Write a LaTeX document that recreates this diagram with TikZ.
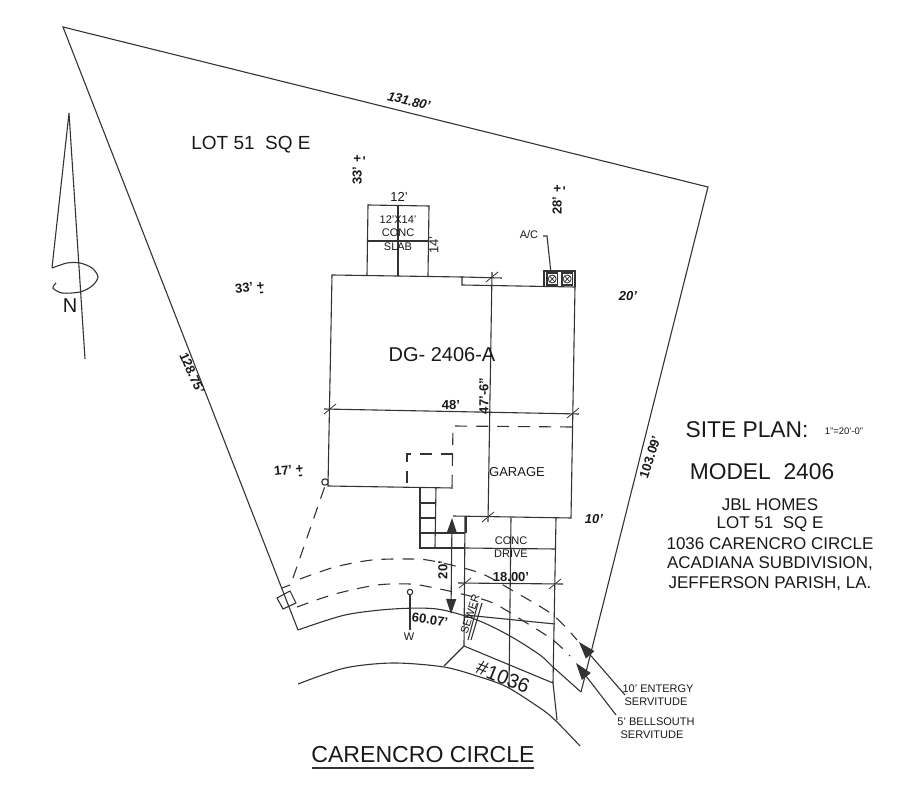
\documentclass[tikz,border=0pt]{standalone}
\usepackage{fontspec}
\setmainfont{Liberation Sans}
\usetikzlibrary{arrows.meta,positioning}
\newcommand{\grd}{\rlap{\raisebox{-6pt}{\,-}}+}
\tikzset{
	lbl/.style={inner sep=0, text=black!90, align=center},
	dim/.style={lbl, font=\fontsize{13}{13}\selectfont\bfseries},
	dimit/.style={lbl, font=\fontsize{13}{13}\selectfont\bfseries\itshape},
	small/.style={lbl, font=\fontsize{11}{11}\selectfont},
	block/.style={lbl, font=\fontsize{17}{17}\selectfont},
	big/.style={lbl, font=\fontsize{22.8}{22.8}\selectfont},
	plan/.style={line width=1.1pt, draw=black!80},
	hid/.style={plan, dash pattern=on 12pt off 9pt},
	tick/.style={plan, line width=0.8pt},
	fat/.style={-{Triangle[length=17pt,width=11pt]}, plan}
}
\begin{document}
\begin{tikzpicture}[x=1pt,y=-1pt, plan]
	\useasboundingbox (0,0) rectangle (900,802);
	\fill[white] (0,0) rectangle (900,802);
	% lot
	\coordinate (lotA) at (63,27);
	\coordinate (lotB) at (708,187);
	\coordinate (lotC) at (581,692);
	\coordinate (lotD) at (298,630);
	\draw[plan] (lotD) -- (lotA) -- (lotB) -- (lotC);
	\draw[plan] plot[smooth] coordinates {(lotD) (345,615) (393,609) (437,609) (477,620) (510,636) (540,655) (553,667) (lotC)};
	\draw[plan] plot[smooth] coordinates {(298,684) (345,668) (393,663) (444,667) (480,677) (507,687) (540,708) (555,720) (580,746)};
	% north arrow
	\coordinate (tip) at (69,113);
	\draw[plan] (85,359) -- (tip) -- (52,268);
	\draw[plan] plot[smooth] coordinates {(52,268) (67,263) (80,263) (92,268) (98,277) (92,286) (80,292) (62,293) (53,288) (56,283)};
	\node[lbl, font=\fontsize{20}{20}\selectfont] (north) at (70,306) {N};
	% slab
	\coordinate (slabA) at (368,205);
	\coordinate (slabB) at (429,206);
	\coordinate (slabC) at (428,276);
	\coordinate (slabD) at (367,276);
	\draw[plan] (slabD) -- (slabA) -- (slabB) -- (slabC);
	\draw[plan] (368,241) -- (429,241);
	\draw[plan] (398,205) -- (398,276);
	% house
	\coordinate (houseA) at (332,275);
	\coordinate (houseB) at (462,277);
	\coordinate (houseC) at (462,285);
	\coordinate (houseD) at (575,287);
	\coordinate (houseE) at (571,518);
	\coordinate (houseF) at (453,516);
	\coordinate (houseG) at (328,486);
	\coordinate (houseH) at (453,488);
	\draw[plan] (houseH) -- (houseG) -- (houseA) -- (houseB) -- (houseC) -- (houseD) -- (houseE) -- (houseF);
	\draw[plan] (houseB) -- (502,278);
	\draw[plan] (492,272) -- (488,522);
	\draw[plan] (324,409) -- (579,414);
	\foreach \tx/\ty in {492/277, 488/517, 330/409, 573/413, 465/583, 555/584}
		\draw[tick] (\tx-6,\ty+5) -- (\tx+6,\ty-5);
	% a/c
	\draw[plan] (544,286) -- (544,271) -- (575,271) -- (575,287);
	\foreach \ax in {547,562} {
		\draw[plan] (\ax,273) rectangle (\ax+10.5,285);
		\draw[tick] (\ax+5.2,279) circle (4);
		\draw[tick] (\ax+2.5,276) -- (\ax+8,282) (\ax+8,276) -- (\ax+2.5,282);
	}
	\draw[plan] (543,236) -- (547,236) -- (551,273);
	% hidden lines
	\draw[hid] (572,427) -- (453,426) -- (452,488);
	\draw[hid] (453,454) -- (407,454) -- (407,487);
	\draw[hid] (293,578) -- (326,483);
	\draw[plan, fill=white] (325,482) circle (3.2);
	% stoop
	\draw[plan] (420,487) -- (420,548) -- (465,548);
	\draw[plan] (436,487) -- (435,548);
	\foreach \sy in {503,518} \draw[plan] (420,\sy) -- (436,\sy);
	\draw[plan] (420,533) -- (465,533);
	\draw[plan] (466,517) -- (466,533);
	% drive
	\coordinate (driveA) at (465,517);
	\coordinate (driveB) at (464,646);
	\coordinate (driveC) at (553,683);
	\coordinate (driveD) at (556,518);
	\coordinate (driveE) at (511,518);
	\draw[plan] (driveA) -- (driveB) -- (driveC) -- (driveD);
	\draw[plan] (driveC) -- (557,720);
	\draw[plan] (driveE) -- (509,688);
	\draw[plan] (465,548) -- (556,549);
	\draw[plan] (458,583) -- (563,584);
	\draw[plan] (465,615) -- (555,624);
	\draw[plan] (driveB) -- (444,666);
	% easements
	\draw[hid] plot[smooth] coordinates {(300,579) (335,567) (372,560) (410,559) (433,561) (480,573) (515,592) (553,615) (577,640)};
	\draw[hid] plot[smooth] coordinates {(297,607) (335,594) (377,585) (410,584) (430,587) (462,594) (493,603) (525,622) (553,640) (570,656)};
	\draw[plan] (277,598) -- (290,591) -- (296,603) -- (283,609) -- cycle;
	\draw[plan] (282,588) -- (290,585);
	% setback arrow
	\coordinate (setA) at (452,518);
	\coordinate (setB) at (451,614);
	\draw[{Triangle[length=15pt,width=10pt]}-{Triangle[length=15pt,width=10pt]}, plan] (setA) -- (setB);
	% water, sewer
	\draw[plan] (410,592) -- (410,630);
	\draw[plan, fill=white] (410,592) circle (2.7);
	\draw[plan] (478,603) -- (468,640) (482,603) -- (471,640);
	% servitude leaders
	\coordinate (leadA) at (625,695);
	\coordinate (leadB) at (616,715);
	\draw[fat] (leadA) -- (579,642);
	\draw[fat] (leadB) -- (576,663);
	% labels
	\node[lbl, font=\fontsize{19}{19}\selectfont] (lotname) at (251,145) {LOT 51\ \ SQ E};
	\node[dimit, rotate=-14] (dimtop) at (409,101) {131.80'};
	\node[dim, rotate=-66] (dimleft) at (192,373) {128.75'};
	\node[dim, rotate=72] (dimright) at (650,457) {103.09'};
	\node[dim, rotate=90] (grade1) at (360,170) {33' \grd};
	\node[dim, rotate=90] (grade2) at (560,200) {28' \grd};
	\node[dim, rotate=6] (grade3) at (250,290) {33' \grd};
	\node[dim, rotate=6] (grade4) at (289,473) {17' \grd};
	\node[dimit] (side1) at (628,296) {20'};
	\node[dimit] (side2) at (594,519) {10'};
	\node[lbl, font=\fontsize{13}{13}\selectfont] (slabw) at (399,197) {12'};
	\node[small] (slabn1) at (398,220) {12'X14'};
	\node[small] (slabn2) at (398,233) {CONC};
	\node[small] (slabn3) at (398,247) {SLAB};
	\node[lbl, font=\fontsize{13}{13}\selectfont, rotate=90] (slabd) at (434,245) {14'};
	\node[small] (ac) at (529,235) {A/C};
	\node[lbl, font=\fontsize{20}{20}\selectfont] (model) at (442,355) {DG- 2406-A};
	\node[dim] (width) at (451,405) {48'};
	\node[dim, rotate=90] (depth) at (484,396) {47'-6"};
	\node[lbl, font=\fontsize{13}{13}\selectfont] (garage) at (517,472) {GARAGE};
	\node[small] (drive1) at (511,541) {CONC};
	\node[small] (drive2) at (511,554) {DRIVE};
	\node[dim] (drivew) at (511,577) {18.00'};
	\node[dim, rotate=90] (setback) at (443,570) {20'};
	\node[dim, rotate=-8] (front) at (430,620) {60.07'};
	\node[small] (water) at (409,637) {W};
	\node[small, rotate=72] (sewer) at (470,614) {SEWER};
	\node[lbl, font=\fontsize{20}{20}\selectfont, rotate=-22] (number) at (503,677) {\#1036};
	\node[big] (siteplan) at (747,430) {SITE PLAN:};
	\node[lbl, font=\fontsize{9.5}{9.5}\selectfont] (planscale) at (844,431) {1"=20'-0"};
	\node[big] (modelno) at (762,472) {MODEL\ \ 2406};
	\node[block] (info1) at (770,505) {JBL HOMES};
	\node[block] (info2) at (770,524) {LOT 51\ \ SQ E};
	\node[block] (info3) at (770,544) {1036 CARENCRO CIRCLE};
	\node[block] (info4) at (770,564) {ACADIANA SUBDIVISION,};
	\node[block] (info5) at (770,584) {JEFFERSON PARISH, LA.};
	\node[small] (serv1) at (658,689) {10' ENTERGY};
	\node[small] (serv2) at (656,702) {SERVITUDE};
	\node[small] (serv3) at (656,722) {5' BELLSOUTH};
	\node[small] (serv4) at (652,735) {SERVITUDE};
	\node[lbl, font=\fontsize{23.1}{23.1}\selectfont] (street) at (423,755) {CARENCRO CIRCLE};
	\draw[plan, line width=1.4pt] (312,768) -- (534,768);
\end{tikzpicture}
\end{document}
